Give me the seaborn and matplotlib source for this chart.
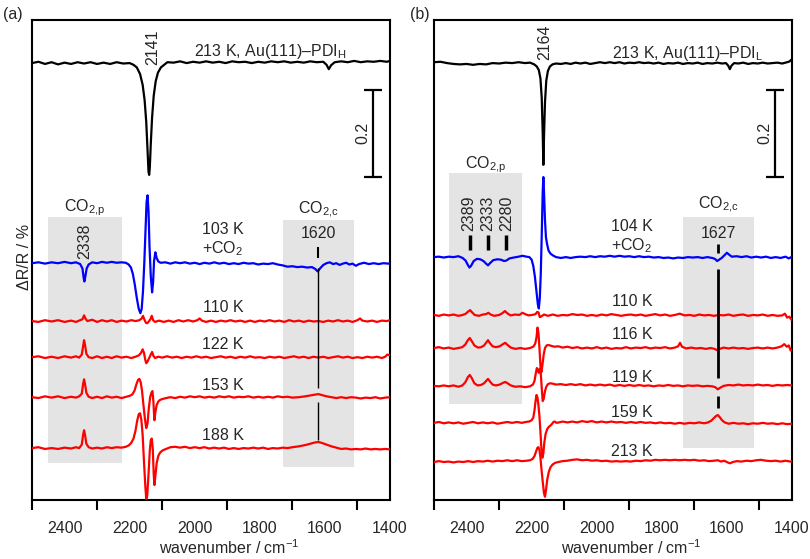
import matplotlib
matplotlib.use("Agg")
import matplotlib.pyplot as plt
import seaborn as sns
import numpy as np

# ---------------- data: (wavenumber / cm-1, dR/R / %) ----------------
A_213 = [(2500, .000), (2480, .003), (2460, -.002), (2440, .002), (2420, -.003), (2400, .001), (2380, -.002),
         (2360, .002), (2340, -.001), (2320, .002), (2300, -.002), (2280, .001), (2260, -.002), (2240, .002),
         (2220, -.001), (2200, .000), (2188, -.004), (2178, -.010), (2168, -.025), (2160, -.050), (2154, -.085),
         (2149, -.135), (2145, -.200), (2142, -.250), (2140, -.257), (2138, -.240), (2135, -.185), (2131, -.125),
         (2126, -.075), (2120, -.042), (2113, -.022), (2104, -.010), (2094, -.004), (2084, .002), (2065, .001),
         (2045, .004), (2025, .000), (2005, .003), (1985, .001), (1965, .004), (1945, .001), (1925, .003),
         (1905, .000), (1885, .004), (1865, .002), (1845, .003), (1825, .000), (1805, .003), (1785, .001),
         (1765, .004), (1745, .002), (1725, .004), (1705, .001), (1685, .003), (1665, .001), (1645, .004),
         (1625, .002), (1605, .003), (1595, -.004), (1588, -.014), (1581, -.005), (1570, .002), (1550, .004),
         (1530, .002), (1510, .005), (1490, .002), (1470, .004), (1450, .003), (1430, .005), (1410, .003),
         (1400, .005)]

A_103 = [(2500, .000), (2480, .002), (2460, -.001), (2440, .002), (2420, .000), (2400, .003), (2380, .000),
         (2365, .002), (2352, -.002), (2345, -.012), (2341, -.035), (2339, -.042), (2336, -.030), (2332, -.012),
         (2326, -.003), (2315, .002), (2300, .000), (2285, .003), (2270, .001), (2255, .003), (2240, .001),
         (2225, .002), (2212, .001), (2203, -.003), (2196, -.010), (2190, -.025), (2184, -.050), (2178, -.080),
         (2172, -.105), (2167, -.115), (2163, -.105), (2159, -.065), (2155, .000), (2151, .080), (2148, .140),
         (2145, .156), (2142, .120), (2139, .040), (2135, -.030), (2131, -.067), (2128, -.045), (2125, .005),
         (2121, .025), (2117, .012), (2112, .004), (2105, .001), (2090, .002), (2075, -.001), (2060, .002),
         (2045, .000), (2030, .002), (2015, -.001), (2000, .001), (1985, -.002), (1970, .001), (1955, -.001),
         (1940, .002), (1925, -.001), (1910, .001), (1895, -.002), (1880, .000), (1865, -.002), (1850, .001),
         (1835, -.001), (1820, .000), (1805, -.003), (1790, -.001), (1775, -.002), (1760, .000), (1745, -.003),
         (1730, -.005), (1715, -.008), (1700, -.007), (1685, -.009), (1670, -.008), (1655, -.010), (1640, -.009),
         (1630, -.013), (1622, -.019), (1615, -.012), (1605, -.004), (1595, .000), (1585, .002), (1575, -.002),
         (1565, .000), (1555, -.004), (1545, -.001), (1535, .001), (1525, -.003), (1515, -.001), (1505, -.006),
         (1495, -.002), (1480, .001), (1465, -.002), (1450, .000), (1435, -.002), (1420, .000), (1405, -.001),
         (1400, .000)]

A_110 = [(2500, .000), (2480, -.002), (2460, .002), (2440, -.001), (2420, .002), (2400, -.002), (2380, .001),
         (2365, -.002), (2352, .002), (2345, .004), (2340, .013), (2336, .006), (2330, .000), (2315, .003),
         (2300, -.002), (2285, .002), (2270, -.001), (2255, .002), (2240, -.002), (2225, .001), (2210, -.001),
         (2195, .002), (2182, .000), (2170, .002), (2163, .006), (2159, .012), (2155, .004), (2150, -.004),
         (2146, -.005), (2140, .000), (2135, .006), (2132, .012), (2128, .002), (2122, -.002), (2110, .001),
         (2095, -.002), (2080, .001), (2065, -.002), (2050, .002), (2035, -.001), (2020, .002), (2005, -.001),
         (1992, .002), (1985, .006), (1978, .001), (1965, -.002), (1950, .001), (1935, -.002), (1920, .001),
         (1905, -.001), (1890, .002), (1875, -.001), (1860, .001), (1845, -.002), (1830, .001), (1815, -.002),
         (1800, .001), (1785, -.001), (1770, .002), (1755, -.001), (1740, .001), (1725, -.002), (1710, .002),
         (1695, -.001), (1680, .001), (1665, -.002), (1650, .001), (1635, -.001), (1620, .000), (1605, -.002),
         (1590, .001), (1575, -.001), (1560, .002), (1545, -.001), (1530, .001), (1515, -.002), (1500, .002),
         (1492, .006), (1485, .001), (1470, -.001), (1455, .001), (1440, -.002), (1425, .001), (1410, .000),
         (1400, .002)]

A_122 = [(2500, .000), (2480, .002), (2460, -.002), (2440, .001), (2420, -.002), (2400, .002), (2380, -.001),
         (2365, .002), (2355, -.001), (2347, .006), (2343, .025), (2340, .039), (2337, .028), (2333, .008),
         (2326, .000), (2315, -.002), (2300, .002), (2285, -.002), (2270, .001), (2255, -.002), (2240, .002),
         (2225, -.001), (2210, .001), (2195, -.002), (2182, .001), (2172, .004), (2165, .010), (2160, .018),
         (2156, .010), (2152, -.006), (2149, -.014), (2145, -.010), (2140, -.002), (2135, .006), (2131, .012),
         (2127, .003), (2122, -.002), (2112, .001), (2100, -.001), (2085, .002), (2070, -.001), (2055, .001),
         (2040, -.002), (2025, .001), (2010, -.001), (1995, .002), (1980, -.001), (1965, .001), (1950, -.002),
         (1935, .000), (1920, .002), (1905, -.001), (1890, .001), (1875, -.002), (1860, .001), (1845, -.001),
         (1830, .002), (1815, -.001), (1800, .000), (1785, -.002), (1770, .001), (1755, -.001), (1740, .001),
         (1725, -.002), (1710, .000), (1695, .002), (1680, -.001), (1665, .001), (1650, -.002), (1635, .001),
         (1620, -.001), (1605, .001), (1590, -.002), (1575, .000), (1560, .002), (1545, -.001), (1530, .001),
         (1515, -.002), (1500, .000), (1485, -.002), (1470, .001), (1455, -.001), (1440, .001), (1425, -.002),
         (1415, .001), (1408, .006), (1400, .004)]

A_153 = [(2500, .000), (2480, -.002), (2460, .002), (2440, -.001), (2420, .002), (2400, -.002), (2380, .001),
         (2365, -.001), (2355, .002), (2347, .008), (2343, .030), (2340, .041), (2337, .030), (2333, .010),
         (2326, .001), (2315, -.002), (2300, .001), (2285, -.002), (2270, .002), (2255, -.001), (2240, .001),
         (2225, -.002), (2210, .001), (2200, .003), (2192, .006), (2185, .015), (2179, .030), (2174, .040),
         (2170, .042), (2166, .034), (2162, .015), (2158, -.015), (2153, -.050), (2149, -.071), (2145, -.060),
         (2141, -.025), (2137, .000), (2133, .010), (2130, .014), (2127, -.010), (2124, -.053), (2121, -.035),
         (2117, -.018), (2112, -.010), (2106, -.006), (2098, -.004), (2088, -.002), (2075, .000), (2060, -.002),
         (2045, .001), (2030, -.001), (2015, .002), (2000, .000), (1985, .002), (1970, -.001), (1955, .001),
         (1940, -.001), (1925, .002), (1910, .000), (1895, .002), (1880, -.001), (1865, .001), (1850, .000),
         (1835, .002), (1820, -.001), (1805, .001), (1790, -.001), (1775, .001), (1760, -.001), (1745, .002),
         (1730, .000), (1715, .001), (1700, -.001), (1680, .000), (1660, .002), (1645, .004), (1630, .006),
         (1620, .007), (1610, .005), (1595, .002), (1580, .000), (1565, -.002), (1550, .000), (1535, -.002),
         (1520, .000), (1505, -.001), (1490, -.003), (1475, -.001), (1460, -.002), (1445, .000), (1430, -.003),
         (1415, -.001), (1400, .000)]

A_188 = [(2500, .000), (2480, .002), (2460, -.002), (2440, .000), (2420, -.002), (2400, .001), (2380, -.001),
         (2365, .002), (2355, .000), (2347, .008), (2343, .030), (2340, .041), (2337, .030), (2333, .010),
         (2326, .002), (2315, -.001), (2300, .001), (2285, -.001), (2270, .002), (2255, .000), (2240, .002),
         (2225, .001), (2212, .003), (2203, .006), (2195, .012), (2188, .022), (2182, .040), (2177, .062),
         (2172, .078), (2168, .080), (2164, .065), (2160, .030), (2156, -.030), (2152, -.085), (2149, -.117),
         (2146, -.110), (2142, -.060), (2138, -.005), (2135, .018), (2132, .022), (2129, .000), (2126, -.060),
         (2124, -.085), (2121, -.065), (2117, -.035), (2112, -.018), (2106, -.010), (2098, -.005), (2088, -.002),
         (2075, .002), (2060, .003), (2045, .001), (2030, .003), (2015, .000), (2000, .002), (1985, .000),
         (1970, .002), (1955, -.001), (1940, .001), (1925, -.001), (1910, .001), (1895, -.002), (1880, .000),
         (1865, -.002), (1850, .000), (1835, -.001), (1820, .001), (1805, -.001), (1790, .001), (1775, -.002),
         (1760, .000), (1745, -.001), (1730, .001), (1715, .000), (1700, .002), (1680, .004), (1660, .007),
         (1645, .010), (1630, .013), (1620, .014), (1610, .012), (1595, .008), (1580, .004), (1565, .001),
         (1550, -.002), (1535, -.001), (1520, -.003), (1505, -.002), (1490, -.003), (1475, -.001), (1460, -.003),
         (1445, -.002), (1430, -.003), (1415, -.002), (1400, -.003)]

B_213 = [(2500, .002), (2480, .003), (2460, .000), (2440, -.002), (2420, -.003), (2400, -.002), (2380, -.004),
         (2360, -.002), (2340, -.003), (2320, .000), (2300, -.001), (2280, .001), (2260, .000), (2240, .002),
         (2220, .000), (2205, .001), (2192, -.003), (2184, -.008), (2178, -.016), (2173, -.035), (2169, -.080),
         (2166, -.160), (2164, -.234), (2162, -.170), (2159, -.090), (2155, -.040), (2150, -.018), (2144, -.008),
         (2136, -.003), (2125, -.001), (2110, -.002), (2095, .000), (2080, -.002), (2065, .001), (2050, -.001),
         (2035, .001), (2020, -.002), (2005, .000), (1990, .002), (1975, .000), (1960, .002), (1945, .000),
         (1930, .002), (1915, -.001), (1900, .001), (1885, .000), (1870, .002), (1855, .000), (1840, .001),
         (1825, -.001), (1810, .001), (1795, -.002), (1780, .000), (1765, -.001), (1750, .001), (1735, -.002),
         (1720, .000), (1705, -.001), (1690, .001), (1675, -.002), (1660, .000), (1645, -.001), (1630, .001),
         (1615, -.001), (1603, .000), (1596, -.006), (1591, -.014), (1586, -.006), (1578, .000), (1565, -.001),
         (1550, .001), (1535, -.002), (1520, .000), (1505, -.001), (1490, .001), (1475, -.001), (1460, .000),
         (1445, .001), (1430, -.001), (1415, .002), (1407, .004), (1402, .008), (1400, .006)]

B_104 = [(2500, .000), (2485, .001), (2470, -.001), (2455, .001), (2440, .000), (2425, .002), (2412, -.002),
         (2403, -.008), (2396, -.018), (2391, -.024), (2386, -.020), (2378, -.009), (2368, -.004), (2358, -.005),
         (2348, -.009), (2340, -.015), (2334, -.019), (2328, -.014), (2318, -.007), (2305, -.005), (2294, -.006),
         (2285, -.009), (2278, -.008), (2268, -.003), (2255, -.001), (2240, .001), (2228, .003), (2216, .001),
         (2207, .000), (2200, -.006), (2195, -.020), (2190, -.045), (2185, -.080), (2181, -.108), (2178, -.118),
         (2175, -.095), (2172, -.040), (2169, .050), (2166, .150), (2164, .184), (2162, .150), (2159, .085),
         (2156, .045), (2152, .028), (2148, .015), (2142, .008), (2135, .004), (2125, .000), (2110, -.002),
         (2095, .000), (2080, -.002), (2065, .000), (2050, .001), (2035, .000), (2020, .002), (2005, .000),
         (1990, .002), (1975, .001), (1960, .003), (1945, .001), (1930, .003), (1915, .001), (1900, .002),
         (1885, .000), (1870, .002), (1855, .000), (1840, .001), (1825, -.001), (1810, .000), (1795, -.002),
         (1780, -.001), (1765, -.003), (1750, -.001), (1735, -.002), (1720, .000), (1705, -.001), (1690, .000),
         (1675, -.002), (1660, .000), (1645, -.002), (1637, -.004), (1630, -.009), (1624, -.006), (1616, -.002),
         (1608, .004), (1600, .010), (1594, .006), (1585, .001), (1570, .002), (1555, .000), (1540, .002),
         (1525, -.001), (1510, .001), (1495, -.001), (1480, .001), (1465, -.002), (1450, .000), (1435, -.002),
         (1420, .001), (1410, -.003), (1400, .001)]

B_110 = [(2500, .000), (2485, -.002), (2470, .001), (2455, -.001), (2440, .001), (2425, -.002), (2412, .000),
         (2402, .003), (2395, .008), (2389, .011), (2383, .006), (2375, .000), (2362, -.002), (2350, .001),
         (2340, .002), (2333, .005), (2326, .001), (2315, -.002), (2300, .000), (2290, .004), (2282, .009),
         (2275, .004), (2265, -.001), (2250, .001), (2238, .000), (2228, .005), (2220, .002), (2210, -.001),
         (2198, .000), (2188, .002), (2183, .007), (2179, .006), (2175, -.005), (2170, -.003), (2162, .001),
         (2150, -.002), (2135, .001), (2120, -.002), (2105, .000), (2090, -.001), (2075, .002), (2060, .000),
         (2045, .001), (2030, -.002), (2015, .000), (2000, -.002), (1985, .001), (1970, -.001), (1955, .002),
         (1940, .000), (1925, -.002), (1910, .000), (1895, .001), (1880, -.001), (1865, .001), (1850, -.002),
         (1835, .000), (1820, .002), (1805, -.001), (1790, .001), (1775, -.002), (1760, .000), (1745, .003),
         (1730, -.001), (1715, .000), (1700, -.002), (1685, .001), (1670, -.001), (1655, .000), (1640, -.002),
         (1625, .000), (1610, -.001), (1595, .001), (1580, -.002), (1565, .000), (1550, .001), (1535, -.002),
         (1520, .000), (1505, -.001), (1490, .001), (1475, -.002), (1460, .000), (1445, -.002), (1430, -.001),
         (1422, .003), (1415, -.006), (1408, -.004), (1402, -.011), (1400, -.010)]

B_116 = [(2500, .000), (2485, .002), (2470, -.001), (2455, .001), (2440, -.002), (2425, .000), (2413, .002),
         (2404, .008), (2396, .018), (2390, .023), (2384, .016), (2376, .006), (2365, .001), (2355, .002),
         (2346, .006), (2339, .013), (2334, .018), (2328, .011), (2320, .004), (2310, .002), (2298, .004),
         (2288, .009), (2281, .012), (2274, .007), (2264, .001), (2250, -.002), (2235, .000), (2220, -.002),
         (2205, .000), (2195, .003), (2189, .010), (2185, .025), (2182, .047), (2179, .035), (2176, .000),
         (2173, -.040), (2170, -.055), (2167, -.040), (2163, -.015), (2159, .000), (2154, .006), (2148, .007),
         (2140, .005), (2130, .003), (2118, .004), (2105, .001), (2090, .003), (2075, .000), (2060, .002),
         (2045, -.001), (2030, .001), (2015, -.001), (2000, .002), (1985, -.001), (1970, .001), (1955, -.002),
         (1940, .000), (1925, -.001), (1910, .002), (1895, -.001), (1880, .001), (1865, .000), (1850, .002),
         (1835, -.001), (1820, .001), (1805, .000), (1790, .002), (1775, -.001), (1760, .001), (1750, .004),
         (1744, .012), (1738, .003), (1725, -.001), (1710, .001), (1695, -.001), (1680, .000), (1665, -.002),
         (1650, .000), (1638, -.002), (1630, -.005), (1622, -.002), (1610, .001), (1595, -.001), (1580, .001),
         (1565, -.001), (1550, .000), (1535, -.002), (1520, .000), (1505, .001), (1490, -.001), (1475, .001),
         (1460, -.001), (1445, .001), (1432, .004), (1424, .009), (1416, .003), (1410, .006), (1404, -.006),
         (1400, -.004)]

B_119 = [(2500, .000), (2485, -.001), (2470, .001), (2455, -.001), (2440, .001), (2425, -.002), (2413, .001),
         (2404, .008), (2396, .020), (2390, .025), (2384, .018), (2376, .006), (2366, .001), (2356, .002),
         (2346, .006), (2339, .012), (2334, .016), (2328, .010), (2320, .003), (2310, .001), (2298, .003),
         (2288, .007), (2281, .009), (2274, .006), (2264, .001), (2250, -.002), (2235, -.001), (2220, -.003),
         (2205, -.001), (2196, .003), (2191, .012), (2187, .030), (2184, .041), (2181, .036), (2178, .030),
         (2175, .040), (2172, .030), (2169, -.005), (2166, -.035), (2163, -.030), (2159, -.012), (2155, -.002),
         (2150, .004), (2143, .006), (2135, .005), (2125, .003), (2110, .004), (2095, .002), (2080, .004),
         (2065, .002), (2050, .004), (2035, .001), (2020, .003), (2005, .001), (1990, .003), (1975, .001),
         (1960, .003), (1945, .000), (1930, .002), (1915, .000), (1900, .002), (1885, .000), (1870, .002),
         (1855, .000), (1840, .001), (1825, -.001), (1810, .001), (1795, .000), (1780, .002), (1765, .000),
         (1750, .001), (1735, -.001), (1720, .001), (1705, .000), (1690, .001), (1675, -.001), (1660, .000),
         (1645, -.001), (1636, -.003), (1628, -.008), (1620, -.004), (1610, .000), (1595, .002), (1580, .001),
         (1565, .003), (1550, .001), (1535, .002), (1520, .001), (1505, .003), (1490, .001), (1475, .002),
         (1460, .000), (1445, .002), (1430, .001), (1415, .002), (1400, .001)]

B_159 = [(2500, .000), (2485, .002), (2470, -.001), (2455, .001), (2440, -.001), (2425, .001), (2410, -.002),
         (2395, .000), (2380, .002), (2365, -.001), (2350, .001), (2335, -.001), (2320, .001), (2305, -.002),
         (2290, .000), (2275, .002), (2260, .000), (2245, .002), (2230, .000), (2218, .002), (2208, .003),
         (2200, .006), (2195, .012), (2191, .030), (2188, .050), (2185, .064), (2182, .058), (2179, .040),
         (2176, .015), (2173, -.020), (2170, -.060), (2167, -.080), (2164, -.070), (2161, -.045), (2157, -.025),
         (2152, -.014), (2147, -.009), (2142, -.006), (2137, -.002), (2133, .002), (2129, .003), (2124, .000),
         (2116, .001), (2105, .003), (2090, .001), (2075, .003), (2060, .001), (2045, .004), (2030, .002),
         (2015, .004), (2000, .001), (1985, .003), (1970, .001), (1955, .003), (1940, .001), (1925, .002),
         (1910, .000), (1895, .002), (1880, .000), (1865, .002), (1850, .000), (1835, .001), (1820, -.001),
         (1805, .001), (1790, -.001), (1775, .000), (1760, -.002), (1745, .000), (1730, -.002), (1715, .000),
         (1700, -.001), (1685, .001), (1670, -.001), (1658, .001), (1648, .005), (1640, .011), (1633, .016),
         (1628, .018), (1622, .013), (1615, .006), (1607, .001), (1595, -.002), (1580, .000), (1565, -.002),
         (1550, -.001), (1535, -.003), (1520, -.001), (1505, -.002), (1490, .000), (1475, -.002), (1460, -.001),
         (1445, -.003), (1430, -.001), (1415, -.003), (1400, -.002)]

B_213K = [(2500, .000), (2485, .002), (2470, .000), (2455, .001), (2440, -.001), (2425, .001), (2410, .000),
          (2395, .002), (2380, .000), (2365, .002), (2350, .001), (2335, .003), (2320, .001), (2305, .003),
          (2290, .002), (2275, .004), (2260, .002), (2245, .004), (2230, .002), (2215, .003), (2205, .004),
          (2197, .007), (2191, .014), (2186, .025), (2182, .033), (2179, .034), (2176, .028), (2173, .010),
          (2170, -.015), (2166, -.045), (2162, -.072), (2159, -.080), (2156, -.065), (2152, -.040), (2147, -.022),
          (2142, -.012), (2136, -.006), (2128, -.002), (2118, .000), (2105, .002), (2090, .003), (2075, .005),
          (2060, .006), (2045, .004), (2030, .005), (2015, .003), (2000, .004), (1985, .002), (1970, .003),
          (1955, .001), (1940, .002), (1925, .001), (1910, .002), (1895, .001), (1880, .003), (1865, .002),
          (1850, .004), (1835, .003), (1820, .005), (1805, .004), (1790, .005), (1775, .004), (1760, .005),
          (1745, .004), (1730, .005), (1715, .004), (1700, .005), (1685, .003), (1670, .004), (1655, .002),
          (1640, .003), (1628, .004), (1618, .001), (1608, .003), (1598, -.001), (1590, -.003), (1582, .000),
          (1570, .002), (1555, .001), (1540, .003), (1525, .002), (1510, .004), (1495, .005), (1480, .003),
          (1465, .002), (1450, .003), (1435, .001), (1420, .003), (1405, .001), (1400, .002)]

x_ticks = [2400, 2200, 2000, 1800, 1600, 1400]
x_tick_labels = ["2400", "2200", "2000", "1800", "1600", "1400"]

# ---------------- style / layout ----------------
sns.set_style("ticks")
plt.rcParams["font.family"] = ["Liberation Sans", "DejaVu Sans"]
plt.rcParams["mathtext.fontset"] = "custom"
plt.rcParams["mathtext.rm"] = "Liberation Sans"
plt.rcParams["mathtext.it"] = "Liberation Sans:italic"
plt.rcParams["mathtext.bf"] = "Liberation Sans:bold"
FS = 11.5

fig = plt.figure(figsize=(8.10, 5.59), dpi=100)
axA = fig.add_axes([0.0395, 0.1055, 0.442, 0.8587])
axB = fig.add_axes([0.5358, 0.1055, 0.442, 0.8587])

BLUE, RED = "#0000ff", "#ff0000"

panelA = [(A_213, -0.099, "black"), (A_103, -0.559, BLUE), (A_110, -0.692, RED),
          (A_122, -0.775, RED), (A_153, -0.867, RED), (A_188, -0.984, RED)]
panelB = [(B_213, -0.099, "black"), (B_104, -0.545, BLUE), (B_110, -0.678, RED),
          (B_116, -0.754, RED), (B_119, -0.841, RED), (B_159, -0.926, RED), (B_213K, -1.016, RED)]

GREY = "#e4e4e4"
CO2P = "CO$_\\mathrm{2{,}p}$"
CO2C = "CO$_\\mathrm{2{,}c}$"

def setup(ax):
    ax.set_xlim(2500, 1400)
    ax.set_ylim(-1.1034, 0.0)
    ax.set_yticks([])
    ax.set_xticks(x_ticks)
    ax.set_xticklabels(x_tick_labels)
    ax.set_xticks([2500, 2300, 2100, 1900, 1700, 1500], minor=True)
    ax.tick_params(axis="x", which="major", length=0, labelsize=FS, pad=15)
    ax.tick_params(axis="x", which="minor", length=7, width=1.5, direction="out", color="black")
    for s in ax.spines.values():
        s.set_linewidth(1.5)
        s.set_color("black")
    ax.text(0.55, -0.099, "wavenumber / cm$^{-1}$", transform=ax.transAxes,
            ha="center", va="center", fontsize=FS)

def draw(ax, panel):
    for spec, off, col in panel:
        xs = [p[0] for p in spec]
        ys = [p[1] + off for p in spec]
        sns.lineplot(x=xs, y=ys, ax=ax, color=col, lw=1.6, sort=False, estimator=None, zorder=3)

def box(ax, x1, x2, y1, y2):
    ax.fill_between([x1, x2], [y1, y1], [y2, y2], color=GREY, lw=0, zorder=0)

def vline(ax, x, y1, y2, lw):
    ax.plot([x, x], [y1, y2], color="black", lw=lw, zorder=4, solid_capstyle="butt")

def scalebar(ax, x, y1, y2):
    ax.errorbar([x], [(y1 + y2) / 2], yerr=[(y1 - y2) / 2], color="black", lw=1.6,
                capsize=6.5, capthick=1.6, fmt="none", zorder=4)

# ---------------- panel (a) ----------------
setup(axA)
box(axA, 2450, 2225, -1.018, -0.453)
box(axA, 1730, 1510, -1.028, -0.460)
draw(axA, panelA)
scalebar(axA, 1452, -0.161, -0.361)
kw = dict(ha="center", va="center", fontsize=FS)
axA.text(2130, -0.062, "2141", rotation=90, **kw)
axA.text(1769, -0.072, "213 K, Au(111)–PDI$_\\mathrm{H}$", **kw)
axA.text(1483, -0.260, "0.2", rotation=90, **kw)
axA.text(2337, -0.432, CO2P, **kw)
axA.text(2337, -0.508, "2338", rotation=90, **kw)
axA.text(1621, -0.437, CO2C, **kw)
axA.text(1621, -0.490, "1620", **kw)
vline(axA, 1620, -0.522, -0.547, 1.5)
vline(axA, 1620, -0.570, -0.846, 1.0)
vline(axA, 1620, -0.878, -0.966, 1.0)
axA.text(1913, -0.506, "103 K\n+CO$_2$", linespacing=1.15, **kw)
for lab, yy in [("110 K", -0.660), ("122 K", -0.745), ("153 K", -0.841), ("188 K", -0.956)]:
    axA.text(1913, yy, lab, **kw)
axA.text(-0.022, 0.506, "ΔR/R / %", rotation=90, transform=axA.transAxes, **kw)

# ---------------- panel (b) ----------------
setup(axB)
box(axB, 2454, 2230, -0.883, -0.352)
box(axB, 1735, 1517, -0.984, -0.453)
draw(axB, panelB)
scalebar(axB, 1452, -0.160, -0.360)
axB.text(2159, -0.051, "2164", rotation=90, **kw)
axB.text(1720, -0.076, "213 K, Au(111)–PDI$_\\mathrm{L}$", **kw)
axB.text(1483, -0.260, "0.2", rotation=90, **kw)
axB.text(2340, -0.333, CO2P, **kw)
for lab, xx in [("2389", 2392), ("2333", 2334), ("2280", 2276)]:
    axB.text(xx, -0.444, lab, rotation=90, **kw)
for xx in [2389, 2333, 2280]:
    vline(axB, xx, -0.494, -0.529, 2.5)
axB.text(1892, -0.499, "104 K\n+CO$_2$", linespacing=1.15, **kw)
axB.text(1627, -0.425, CO2C, **kw)
axB.text(1627, -0.490, "1627", **kw)
vline(axB, 1627, -0.515, -0.536, 2.0)
vline(axB, 1627, -0.572, -0.823, 2.0)
vline(axB, 1627, -0.864, -0.892, 2.0)
for lab, yy in [("110 K", -0.648), ("116 K", -0.724), ("119 K", -0.821),
                ("159 K", -0.903), ("213 K", -0.993)]:
    axB.text(1892, yy, lab, **kw)

fig.text(13 / 810, 1 - 14 / 559, "(a)", ha="center", va="center", fontsize=FS)
fig.text(420 / 810, 1 - 14 / 559, "(b)", ha="center", va="center", fontsize=FS)

fig.savefig("out.png", dpi=100)
